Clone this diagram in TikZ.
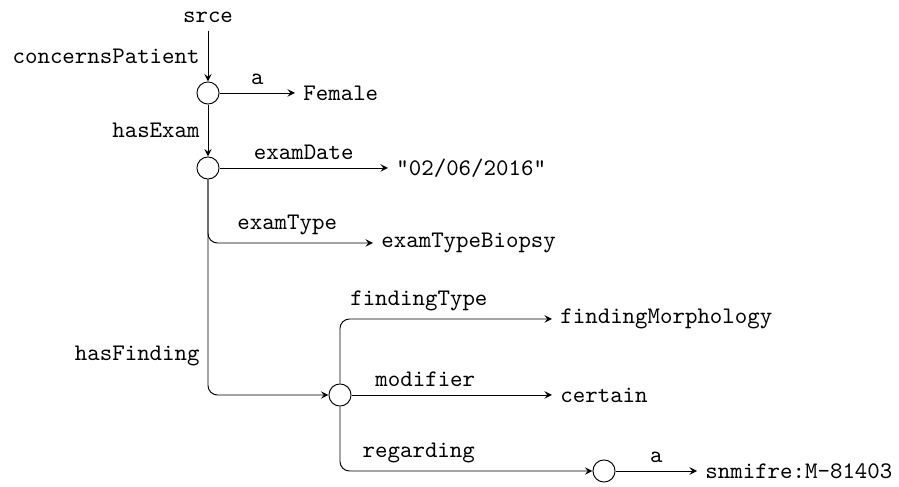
\documentclass[tikz,border=0pt]{standalone}
\usetikzlibrary{arrows}
\tikzset{
  bnode/.style={draw, circle, minimum size=9.3pt, inner sep=0pt},
  obj/.style={anchor=west},
  rel/.style={->, >=stealth, rounded corners=4pt},
}
\newcommand{\blank}[3]{\node[bnode] (#1) at (#2,#3) {};}
\newcommand{\obj}[4]{\node[obj] (#1) at (#2,#3) {#4};}

\begin{document}
\begin{tikzpicture}[x=0.0148cm, y=-0.0148cm, font=\ttfamily]
        \useasboundingbox (0,0) rectangle (899,487);
        \node (srce) at (208,17) {srce};
        \blank{pat}{208}{93}
        \obj{female}{295}{93}{Female}
        \blank{exam}{208}{168}
        \obj{date}{388}{168}{"02/06/2016"}
        \obj{biopsy}{373}{243}{examTypeBiopsy}
        \blank{find}{340}{395}
        \obj{morph}{552}{319}{findingMorphology}
        \obj{cert}{552}{395}{certain}
        \blank{reg}{604}{471}
        \obj{snm}{697}{471}{snmifre:M-81403}

        \draw[rel] (srce) -- node[left] {concernsPatient} (pat);
        \draw[rel] (pat) -- node[above] {a} (female);
        \draw[rel] (pat) -- node[left] {hasExam} (exam);
        \draw[rel] (exam) -- node[above] {examDate} (date);
        \draw[rel] (exam) |- node[above, pos=0.74] {examType} (biopsy);
        \draw[rel] (exam) |- node[left, pos=0.41] {hasFinding} (find);
        \draw[rel] (find) |- node[above, pos=0.686] {findingType} (morph);
        \draw[rel] (find) -- node[above, pos=0.368] {modifier} (cert);
        \draw[rel] (find) |- node[above, pos=0.656] {regarding} (reg);
        \draw[rel] (reg) -- node[above] {a} (snm);
    \end{tikzpicture}
\end{document}
